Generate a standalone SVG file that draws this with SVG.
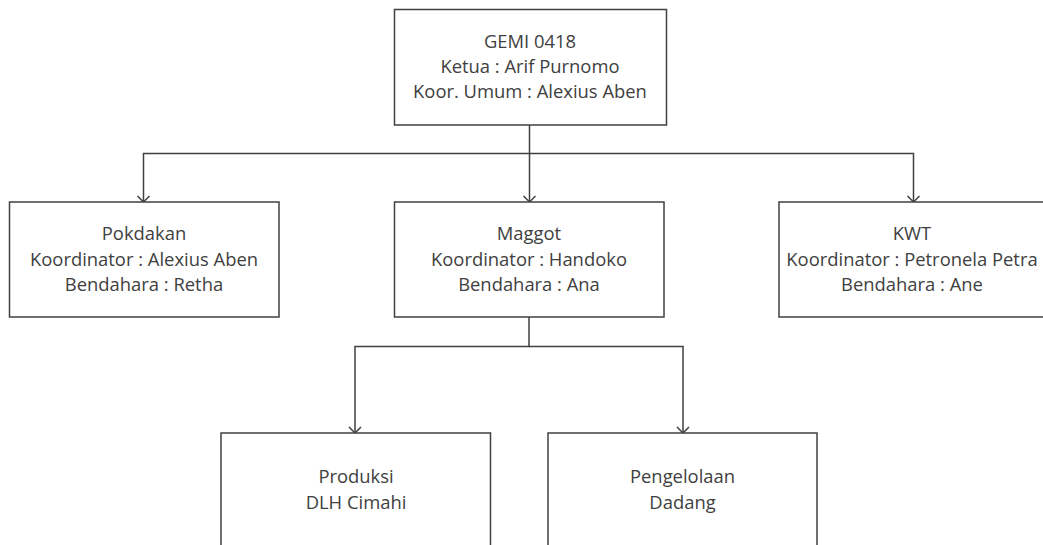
<svg xmlns="http://www.w3.org/2000/svg" width="1043" height="545" viewBox="0 0 1043 545">
<defs>
<style>
.box{fill:#ffffff;stroke:#404040;stroke-width:1.5}
.t{font-family:"Open Sans","Noto Sans",sans-serif;font-size:18.4px;fill:#404040;text-anchor:middle}
.c{fill:none;stroke:#404040;stroke-width:1.5}
</style>
<marker id="arr" viewBox="-8 -8 16 16" refX="0" refY="0" markerWidth="16" markerHeight="16" markerUnits="userSpaceOnUse" orient="auto" overflow="visible">
<path d="M-6,-6 L0,0 L-6,6" fill="none" stroke="#404040" stroke-width="1.5"/>
</marker>
</defs>
<rect width="1043" height="545" fill="#ffffff"/>
<g id="connectors">
<path class="c" d="M529.5,125 V202" marker-end="url(#arr)"/>
<path class="c" d="M529.5,153.5 H143.5 V202" marker-end="url(#arr)"/>
<path class="c" d="M529.5,153.5 H913.5 V202" marker-end="url(#arr)"/>
<path class="c" d="M529,317 V346.5 H355 V433" marker-end="url(#arr)"/>
<path class="c" d="M529,346.5 H683 V433" marker-end="url(#arr)"/>
</g>
<g id="gemi">
<rect class="box" x="394.5" y="9.5" width="272" height="115.5"/>
<text class="t" x="530" y="48">GEMI 0418</text>
<text class="t" x="530" y="73">Ketua : Arif Purnomo</text>
<text class="t" x="530" y="98">Koor. Umum : Alexius Aben</text>
</g>
<g id="pokdakan">
<rect class="box" x="9.5" y="202" width="269.5" height="115"/>
<text class="t" x="144" y="240">Pokdakan</text>
<text class="t" x="144" y="265.5">Koordinator : Alexius Aben</text>
<text class="t" x="144" y="290.5">Bendahara : Retha</text>
</g>
<g id="maggot">
<rect class="box" x="394.5" y="202" width="269.5" height="115"/>
<text class="t" x="529" y="240">Maggot</text>
<text class="t" x="529" y="265.5">Koordinator : Handoko</text>
<text class="t" x="529" y="290.5">Bendahara : Ana</text>
</g>
<g id="kwt">
<rect class="box" x="779" y="202" width="270" height="115"/>
<text class="t" x="912" y="240">KWT</text>
<text class="t" x="912" y="265.5">Koordinator : Petronela Petra</text>
<text class="t" x="912" y="290.5">Bendahara : Ane</text>
</g>
<g id="produksi">
<rect class="box" x="221" y="433" width="269.5" height="116"/>
<text class="t" x="356" y="483">Produksi</text>
<text class="t" x="356" y="508.5">DLH Cimahi</text>
</g>
<g id="pengelolaan">
<rect class="box" x="548" y="433" width="269" height="116"/>
<text class="t" x="682.5" y="483">Pengelolaan</text>
<text class="t" x="682.5" y="508.5">Dadang</text>
</g>
</svg>
